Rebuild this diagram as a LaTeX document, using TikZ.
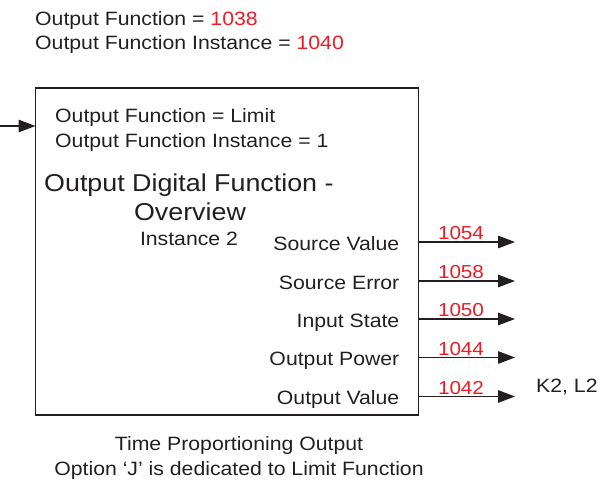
\documentclass[tikz,border=0pt]{standalone}
\usepackage{fontspec}
\setmainfont[FakeStretch=1.1]{Liberation Sans}
\usetikzlibrary{arrows.meta}
\definecolor{numred}{RGB}{237,28,36}
\definecolor{ink}{RGB}{35,31,32}
\tikzset{
  txt/.style={font=\fontsize{19.3pt}{24pt}\selectfont, inner sep=0pt, text=ink},
  ttl/.style={font=\fontsize{24.4pt}{29pt}\selectfont, inner sep=0pt, text=ink},
  num/.style={font=\fontsize{18.8pt}{23pt}\selectfont, inner sep=0pt, text=numred},
  arr/.style={draw=ink, line width=1.3pt, -{Triangle[length=17pt,width=12.5pt]}},
  blockbox/.style={draw=ink, line width=1.4pt, minimum width=383pt, minimum height=327pt, inner sep=0pt, outer sep=0pt}
}
\begin{document}
\begin{tikzpicture}[x=1pt,y=-1pt]
\useasboundingbox (0,0) rectangle (605,495);
% header
\node[txt, anchor=base west] (hdrA) at (35,26) {Output Function = \textcolor{numred}{1038}};
\node[txt, anchor=base west] (hdrB) at (35,50) {Output Function Instance = \textcolor{numred}{1040}};
% block
\node[blockbox, anchor=north west] (box) at (35.5,88) {};
\coordinate (inp) at (0,126);
\draw[arr] (inp) -- (inp -| box.west);
\node[txt, anchor=base west] (lineA) at (55,122) {Output Function = Limit};
\node[txt, anchor=base west] (lineB) at (55,147) {Output Function Instance = 1};
\node[ttl, anchor=base west] (title) at (44,191) {Output Digital Function -};
\node[ttl, anchor=base] (over) at (190,220) {Overview};
\node[txt, anchor=base] (inst) at (189,245) {Instance 2};
% outputs
\foreach \nm/\lab/\val/\yy in {sv/Source Value/1054/242, se/Source Error/1058/281, is/Input State/1050/319, op/Output Power/1044/357.5, ov/Output Value/1042/396.5}{
  \coordinate (end\nm) at (515,\yy);
  \draw[arr] (box.east |- end\nm) -- (end\nm);
  \node[txt, anchor=base east] (lab\nm) at (399.5,\yy+8) {\lab};
  \node[num, anchor=base] (num\nm) at (461,\yy-2.5) {\val};
}
\node[txt, anchor=base west] (kl) at (536,392) {K2, L2};
% footer
\node[txt, anchor=base] (ftA) at (239,450) {Time Proportioning Output};
\node[txt, anchor=base] (ftB) at (239,475) {Option ‘J’ is dedicated to Limit Function};
\end{tikzpicture}
\end{document}
